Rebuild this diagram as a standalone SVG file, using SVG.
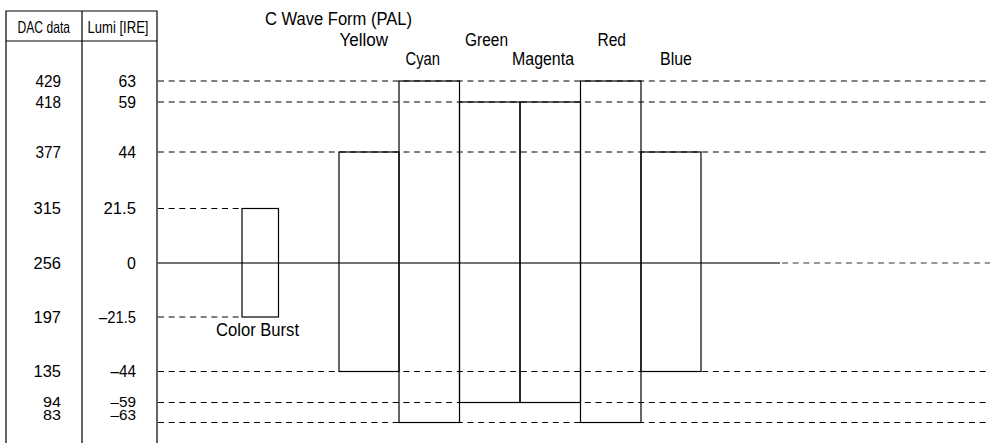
<svg xmlns="http://www.w3.org/2000/svg" width="993" height="443" viewBox="0 0 993 443">
<style>
text{font-family:"Liberation Sans",Arial,sans-serif;fill:#000}
.num{font-size:16px;text-anchor:end}
.sm{font-size:14.5px}
.hd{font-size:16.5px}
.lbl{font-size:17.5px}
.tl{stroke:#000;stroke-width:1.2;fill:none}
.bar{stroke:#000;stroke-width:1.2;fill:none}
.dash{stroke:#000;stroke-width:1;stroke-dasharray:6 4.67;fill:none}
.zero{stroke:#444;stroke-width:1.5;fill:none}
.zerod{stroke:#777;stroke-width:1.5;stroke-dasharray:6 4.67;fill:none}
</style>
<rect width="993" height="443" fill="#fff"/>
<g id="table">
<path class="tl" d="M6 443V11H157V443M82 11V443M6 41H157"/>
<text class="hd" x="17.5" y="32.5" textLength="52.5" lengthAdjust="spacingAndGlyphs">DAC data</text>
<text class="hd" x="87.5" y="32.5" textLength="61" lengthAdjust="spacingAndGlyphs">Lumi [IRE]</text>
</g>
<g id="dac-values">
<text class="num" x="61" y="86.5" textLength="25.5" lengthAdjust="spacingAndGlyphs">429</text>
<text class="num" x="61" y="107.5" textLength="25.5" lengthAdjust="spacingAndGlyphs">418</text>
<text class="num" x="61" y="157.5" textLength="25.5" lengthAdjust="spacingAndGlyphs">377</text>
<text class="num" x="61" y="214" textLength="27.5" lengthAdjust="spacingAndGlyphs">315</text>
<text class="num" x="61" y="268.5" textLength="27.5" lengthAdjust="spacingAndGlyphs">256</text>
<text class="num" x="61" y="322.5" textLength="27.5" lengthAdjust="spacingAndGlyphs">197</text>
<text class="num" x="61" y="377" textLength="27.5" lengthAdjust="spacingAndGlyphs">135</text>
<text class="num sm" x="61" y="406.5" textLength="18" lengthAdjust="spacingAndGlyphs">94</text>
<text class="num sm" x="61" y="419.5" textLength="18" lengthAdjust="spacingAndGlyphs">83</text>
</g>
<g id="lumi-values">
<text class="num" x="136" y="86.5" textLength="17.5" lengthAdjust="spacingAndGlyphs">63</text>
<text class="num" x="136" y="107.5" textLength="17.5" lengthAdjust="spacingAndGlyphs">59</text>
<text class="num" x="136" y="157.5" textLength="17.5" lengthAdjust="spacingAndGlyphs">44</text>
<text class="num" x="136" y="214" textLength="32.5" lengthAdjust="spacingAndGlyphs">21.5</text>
<text class="num" x="136" y="268.5">0</text>
<text class="num" x="136" y="322.5" textLength="37" lengthAdjust="spacingAndGlyphs">–21.5</text>
<text class="num" x="136" y="377" textLength="25.5" lengthAdjust="spacingAndGlyphs">–44</text>
<text class="num sm" x="136" y="406.5" textLength="25.5" lengthAdjust="spacingAndGlyphs">–59</text>
<text class="num sm" x="136" y="419.5" textLength="25.5" lengthAdjust="spacingAndGlyphs">–63</text>
</g>
<g id="connectors">
<path class="dash" d="M158 81H990M158 102H990M158 152H990M158 371.5H990M158 402.5H990M158 422.5H990M158 208.5H242M158 317H242"/>
<path class="zero" d="M157 263H780"/>
<path class="zerod" d="M782 263H990"/>
</g>
<g id="title">
<text class="lbl" x="265" y="25" textLength="147" lengthAdjust="spacingAndGlyphs">C Wave Form (PAL)</text>
</g>
<g id="color-burst">
<rect class="bar" x="242" y="208.5" width="36.5" height="108.5"/>
<text class="lbl" x="216" y="335.5" textLength="83" lengthAdjust="spacingAndGlyphs">Color Burst</text>
</g>
<g id="yellow">
<rect class="bar" x="339" y="152" width="60" height="219.5"/>
<text class="lbl" x="339.5" y="45.5" textLength="48.5" lengthAdjust="spacingAndGlyphs">Yellow</text>
</g>
<g id="cyan">
<rect class="bar" x="399" y="81" width="60.5" height="341.5"/>
<text class="lbl" x="405.5" y="64.5" textLength="34.5" lengthAdjust="spacingAndGlyphs">Cyan</text>
</g>
<g id="green">
<rect class="bar" x="459.5" y="102" width="60.5" height="300.5"/>
<text class="lbl" x="465" y="45.5" textLength="43" lengthAdjust="spacingAndGlyphs">Green</text>
</g>
<g id="magenta">
<rect class="bar" x="520" y="102" width="60.5" height="300.5"/>
<text class="lbl" x="512" y="64.5" textLength="62" lengthAdjust="spacingAndGlyphs">Magenta</text>
</g>
<g id="red">
<rect class="bar" x="580.5" y="81" width="60.5" height="341.5"/>
<text class="lbl" x="597.5" y="45.5" textLength="28.5" lengthAdjust="spacingAndGlyphs">Red</text>
</g>
<g id="blue">
<rect class="bar" x="641" y="152" width="60" height="219.5"/>
<text class="lbl" x="660" y="64.5" textLength="32" lengthAdjust="spacingAndGlyphs">Blue</text>
</g>
</svg>
